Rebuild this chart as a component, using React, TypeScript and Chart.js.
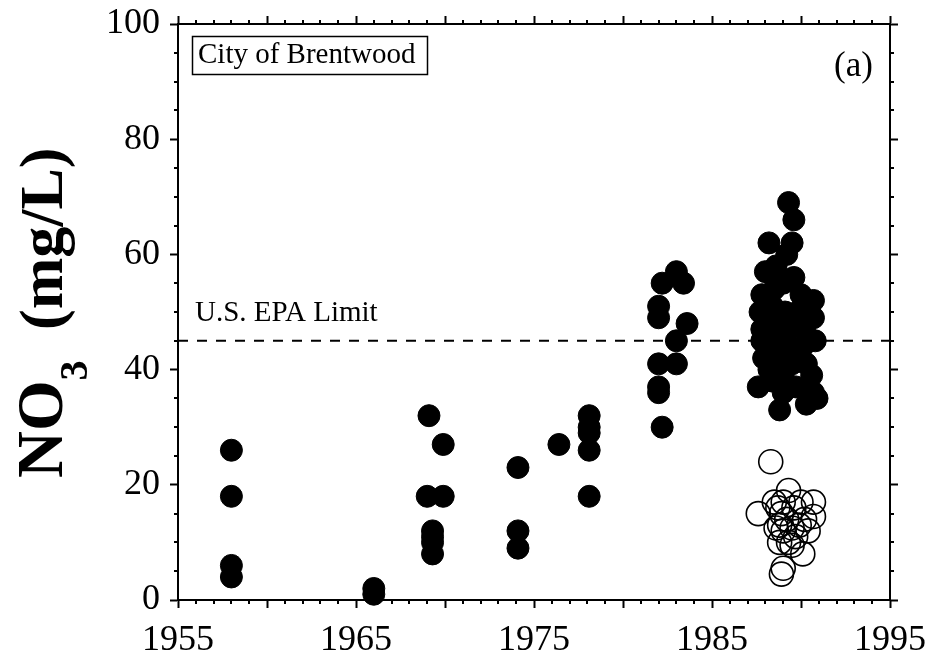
import { useEffect, useRef } from "react";
import { Chart, registerables } from "chart.js";

Chart.register(...registerables);

// ---- data ----
const xMin = 1955;
const xMax = 1995;
const yMin = 0;
const yMax = 100;
const xLabelYears = [1955, 1965, 1975, 1985, 1995];
const yLabelValues = [0, 20, 40, 60, 80, 100];
const epaLimit = 45;

const filledYears = [
  1958.0, 1958.0, 1958.0, 1958.0,
  1966.0, 1966.0,
  1969.1, 1969.0, 1969.9, 1969.9, 1969.3, 1969.3, 1969.3, 1969.3,
  1974.1, 1974.1, 1974.1,
  1976.4,
  1978.1, 1978.1, 1978.1, 1978.1, 1978.1,
  1983.0, 1982.2, 1983.4, 1982.0, 1982.0, 1983.6, 1983.0, 1982.0, 1983.0, 1982.0, 1982.0, 1982.2,
  1989.3, 1989.6, 1988.2, 1989.5, 1989.2, 1988.0, 1988.6, 1989.0, 1989.6, 1987.8,
  1988.5, 1990.0, 1990.7, 1987.7, 1988.4, 1989.1, 1989.8, 1990.7, 1987.8, 1988.5,
  1989.3, 1990.2, 1990.8, 1987.8, 1988.6, 1989.4, 1990.1, 1987.9, 1988.7, 1989.5,
  1990.3, 1990.6, 1988.2, 1989.0, 1987.6, 1988.4, 1989.0, 1989.7, 1990.7, 1988.8,
  1990.3, 1990.9,
];
const filledValues = [
  26, 18, 6, 4,
  1, 2,
  32, 18, 27, 18, 12, 11, 10, 8,
  23, 12, 9,
  27,
  32, 30, 29, 26, 18,
  57, 55, 55, 51, 49, 48, 45, 41, 41, 37, 36, 30,
  69, 66, 62, 62, 60, 57, 58, 55, 56, 53,
  54, 53, 52, 50, 51, 50, 50, 49, 47, 48,
  47, 47, 45, 45, 45, 44, 44, 42, 42, 41,
  41, 39, 40, 39, 37, 38, 36, 37, 36, 33,
  34, 35,
];

const openYears = [
  1988.3, 1989.3, 1988.5, 1987.6, 1988.7, 1988.9, 1989.0, 1989.6, 1990.0, 1990.7,
  1990.7, 1988.8, 1989.2, 1989.5, 1989.9, 1990.2, 1990.4, 1989.0, 1988.6, 1988.8,
  1989.3, 1989.5, 1990.1, 1988.9, 1989.0, 1989.7,
];
const openValues = [
  24, 19, 17, 15, 16, 15, 17, 16, 17, 17,
  14.5, 13, 14, 12.5, 13, 14, 12, 12, 12.5, 10,
  10, 9.5, 8, 4.5, 5.5, 11,
];

const SERIF = "'Liberation Serif', 'Times New Roman', Times, serif";

const decorPlugin = {
  id: "decor",
  afterDraw(chart: any) {
    const ctx = chart.ctx as CanvasRenderingContext2D;
    const { left, right, top, bottom } = chart.chartArea;
    const xs = chart.scales.x;
    const ys = chart.scales.y;
    ctx.save();
    ctx.strokeStyle = "#000";
    ctx.fillStyle = "#000";
    ctx.lineWidth = 2;
    // minor ticks
    ctx.beginPath();
    for (let yr = xMin; yr <= xMax; yr++) {
      if (yr % 5 === 0) continue;
      const px = Math.round(xs.getPixelForValue(yr));
      ctx.moveTo(px, bottom);
      ctx.lineTo(px, bottom + 4);
      ctx.moveTo(px, top);
      ctx.lineTo(px, top - 4);
    }
    for (let v = yMin; v <= yMax; v += 5) {
      if (v % 20 === 0) continue;
      const py = Math.round(ys.getPixelForValue(v));
      ctx.moveTo(left, py);
      ctx.lineTo(left - 4, py);
      ctx.moveTo(right, py);
      ctx.lineTo(right + 4, py);
    }
    ctx.stroke();

    // y axis title: NO3 (mg/L)
    ctx.save();
    ctx.translate(62, 478);
    ctx.rotate(-Math.PI / 2);
    ctx.textAlign = "left";
    ctx.textBaseline = "alphabetic";
    ctx.font = `bold 65px ${SERIF}`;
    ctx.fillText("NO", 0, 0);
    const wNO = ctx.measureText("NO").width;
    ctx.font = `bold 40px ${SERIF}`;
    ctx.fillText("3", wNO, 25);
    ctx.font = `bold 62px ${SERIF}`;
    ctx.fillText("(mg/L)", 148, 0);
    ctx.restore();

    // City of Brentwood box
    ctx.lineWidth = 1.5;
    ctx.strokeRect(left + 14.5, top + 12.5, 235, 38);
    ctx.font = `29px ${SERIF}`;
    ctx.textAlign = "left";
    ctx.textBaseline = "alphabetic";
    ctx.fillText("City of Brentwood", left + 20, top + 39);

    // (a)
    ctx.font = `35px ${SERIF}`;
    ctx.fillText("(a)", right - 56, top + 52);

    // EPA label
    ctx.font = `29px ${SERIF}`;
    const epaPy = ys.getPixelForValue(epaLimit);
    ctx.fillText("U.S. EPA Limit", left + 17, epaPy - 20);
    ctx.restore();
  },
};

function fixSize(w: number | null, h: number | null) {
  return (s: any) => {
    if (w !== null) s.width = w;
    if (h !== null) s.height = h;
    s.paddingLeft = 0;
    s.paddingRight = 0;
    s.paddingTop = 0;
    s.paddingBottom = 0;
  };
}

export default function App() {
  const canvasRef = useRef<HTMLCanvasElement | null>(null);

  useEffect(() => {
    document.body.style.margin = "0";
    const canvas = canvasRef.current;
    if (!canvas) return;

    const filled = filledYears.map((x, i) => ({ x, y: filledValues[i] }));
    const open = openYears.map((x, i) => ({ x, y: openValues[i] }));
    const limitLine = [
      { x: xMin, y: epaLimit },
      { x: xMax, y: epaLimit },
    ];

    const tickFont = { family: SERIF, size: 36 };
    const commonGrid = {
      drawOnChartArea: false,
      drawTicks: true,
      tickLength: 8,
      tickWidth: 2,
      tickColor: "#000",
      color: "#000",
    };
    const commonBorder = { display: true, color: "#000", width: 2 };

    const chart = new Chart(canvas, {
      type: "scatter",
      data: {
        datasets: [
          {
            label: "limit",
            data: limitLine,
            showLine: true,
            borderColor: "#000",
            borderWidth: 2,
            borderDash: [10, 9],
            pointRadius: 0,
            fill: false,
          } as any,
          {
            label: "open",
            data: open,
            pointRadius: 12,
            pointBorderWidth: 1.6,
            pointBorderColor: "#000",
            pointBackgroundColor: "rgba(0,0,0,0)",
            clip: false,
          } as any,
          {
            label: "filled",
            data: filled,
            pointRadius: 11,
            pointBorderWidth: 1,
            pointBorderColor: "#000",
            pointBackgroundColor: "#000",
            clip: false,
          } as any,
        ],
      },
      options: {
        responsive: false,
        animation: false,
        devicePixelRatio: 1,
        layout: { padding: 0 },
        plugins: {
          legend: { display: false },
          tooltip: { enabled: false },
        },
        scales: {
          x: {
            type: "linear",
            position: "bottom",
            min: xMin,
            max: xMax,
            grid: commonGrid,
            border: commonBorder,
            ticks: {
              stepSize: 5,
              autoSkip: false,
              maxRotation: 0,
              color: "#000",
              font: tickFont,
              padding: 11,
              callback: (v: any) => (xLabelYears.includes(Number(v)) ? String(v) : ""),
            },
            afterFit: fixSize(null, 60),
          },
          x2: {
            type: "linear",
            position: "top",
            min: xMin,
            max: xMax,
            grid: commonGrid,
            border: commonBorder,
            ticks: { stepSize: 5, display: false },
            afterFit: fixSize(null, 24),
          },
          y: {
            type: "linear",
            position: "left",
            min: yMin,
            max: yMax,
            grid: commonGrid,
            border: commonBorder,
            ticks: {
              stepSize: 20,
              color: "#000",
              font: tickFont,
              padding: 10,
              callback: (v: any) => (yLabelValues.includes(Number(v)) ? String(v) : ""),
            },
            afterFit: fixSize(178, null),
          },
          y2: {
            type: "linear",
            position: "right",
            min: yMin,
            max: yMax,
            grid: commonGrid,
            border: commonBorder,
            ticks: { stepSize: 20, display: false },
            afterFit: fixSize(40, null),
          },
        },
      } as any,
      plugins: [decorPlugin],
    });

    return () => {
      chart.destroy();
    };
  }, []);

  return (
    <div style={{ width: 930, height: 660, background: "#fff" }}>
      <canvas ref={canvasRef} width={930} height={660} style={{ display: "block" }} />
    </div>
  );
}
